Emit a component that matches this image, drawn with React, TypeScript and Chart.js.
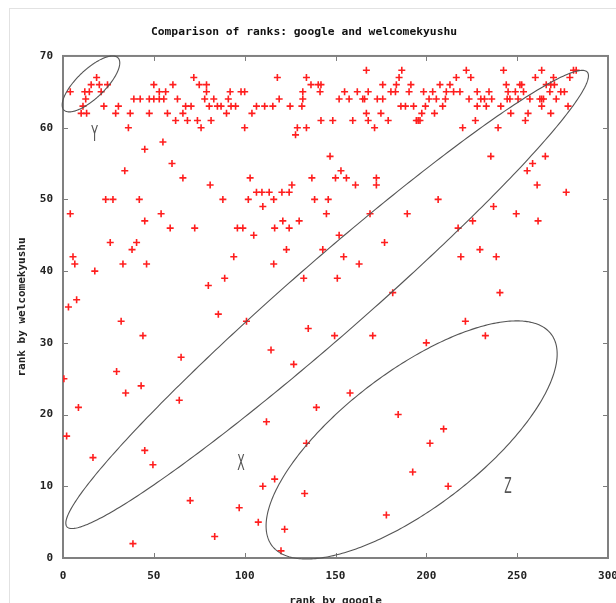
import React, { useEffect, useRef } from "react";
import { Chart, registerables } from "chart.js";

Chart.register(...registerables);

const chartTitle = "Comparison of ranks: google and welcomekyushu";
const xAxisTitle = "rank by google";
const yAxisTitle = "rank by welcomekyushu";

const xMin = 0;
const xMax = 300;
const xStep = 50;
const yMin = 0;
const yMax = 70;
const yStep = 10;

// rank by google (x) for each page
const googleRank = [
  // top band, left part
  4, 12, 14.5, 15.5, 18.5, 20, 24.5, 21, 12.5, 11, 10, 13, 22.5, 29, 30.5, 37, 36, 39, 42.5, 47.5,
  50, 53, 55.5, 50, 53, 60.5, 56.5, 63, 47.5, 57.5, 62, 67.5, 70.5, 66, 68.5, 72, 75, 79, 79, 78,
  74, 76, 80.5, 85, 83, 81.5, 87, 90, 91, 92, 92.5, 95, 98, 100, 100, 104,
  45, 55, 34, 60, 66, 81, 103, 23.5, 27.5, 42, 88, 102,
  // top band, middle part
  106.5, 111, 115.5, 118, 119, 125, 131.5, 132, 132, 134, 136.5, 140.5, 142, 141.5, 142, 129, 134, 128, 148.5, 152,
  155, 157.5, 159.5, 162, 165, 166, 168, 167, 167, 168, 171.5, 173, 176, 176, 175, 179, 180.5, 183, 183.5, 185,
  186.5, 186, 188.5, 190.5, 191.5, 193, 194.5, 195.5, 196.5, 197.5, 198.5, 199.5, 201.5, 203.5, 204.5, 205.5, 207.5, 209, 210.5, 211,
  147, 153, 156, 150, 137, 161, 172.5, 172.5, 106.5, 109.5, 113.5, 110, 116, 120.5, 124.5, 126, 138.5, 146, 206.5,
  // top band, right part
  215, 218.5, 213, 216.5, 222, 224.5, 223.5, 228, 230, 232, 234.5, 236, 228, 233, 227, 220, 239.5, 242.5, 244, 245,
  244.5, 246, 241, 246.5, 251.5, 252.5, 249, 253.5, 250.5, 256, 254.5, 260, 263.5, 257, 262.5, 263.5, 264.5, 263.5, 268, 266,
  268.5, 270.5, 270, 271.5, 274, 276, 268.5, 278, 279, 281, 282.5,
  235.5, 258.5, 255.5, 265.5, 261, 277, 237,
  249.5, 261.5, 225.5, 217.5, 229.5, 219, 238.5, 240.5, 221.5, 232.5,
  // middle
  145, 121, 130, 116.5, 124.5, 105, 152, 169, 189.5, 177, 123, 143, 116, 154.5, 163, 132.5, 151, 181.5, 135, 149.5,
  170.5, 200, 114.5, 127,
  4, 45, 54, 59, 72.5, 96, 99, 26, 40.5, 38, 5.5, 6.5, 33, 46, 17.5, 94, 89, 80, 7.5, 3,
  85.5, 101, 32, 44, 65, 29.5, 0.5,
  // lower part
  43, 34.5, 64, 8.5, 2, 16.5, 45, 49.5, 70, 97, 83.5, 38.5,
  112, 139.5, 158, 134, 184.5, 209.5, 202, 192.5, 212, 110, 116.5, 133, 178, 107.5, 122, 120,
];

// rank by welcomekyushu (y) for the same pages
const welcomeRank = [
  65, 65, 65, 66, 67, 66, 66, 65, 64, 63, 62, 62, 63, 62, 63, 62, 60, 64, 64, 64,
  64, 64, 64, 66, 65, 66, 65, 64, 62, 62, 61, 63, 63, 62, 61, 67, 66, 66, 65, 64,
  61, 60, 63, 63, 64, 61, 63, 62, 64, 65, 63, 63, 65, 65, 60, 62,
  57, 58, 54, 55, 53, 52, 53, 50, 50, 50, 50, 50,
  63, 63, 63, 67, 64, 63, 63, 65, 64, 67, 66, 66, 66, 65, 61, 60, 60, 59, 61, 64,
  65, 64, 61, 65, 64, 64, 65, 68, 62, 61, 60, 64, 64, 66, 62, 61, 65, 65, 66, 67,
  68, 63, 63, 65, 66, 63, 61, 61, 61, 62, 65, 63, 64, 65, 62, 64, 66, 63, 64, 65,
  56, 54, 53, 53, 53, 52, 53, 52, 51, 51, 51, 49, 50, 51, 51, 52, 50, 50, 50,
  65, 65, 66, 67, 68, 67, 64, 65, 64, 64, 65, 64, 63, 63, 61, 60, 60, 68, 66, 65,
  64, 64, 63, 62, 66, 66, 65, 65, 64, 62, 61, 67, 68, 64, 64, 64, 64, 63, 65, 66,
  66, 66, 67, 64, 65, 65, 62, 63, 67, 68, 68,
  56, 55, 54, 56, 52, 51, 49,
  48, 47, 47, 46, 43, 42, 42, 37, 33, 31,
  48, 47, 47, 46, 46, 45, 45, 48, 48, 44, 43, 43, 41, 42, 41, 39, 39, 37, 32, 31,
  31, 30, 29, 27,
  48, 47, 48, 46, 46, 46, 46, 44, 44, 43, 42, 41, 41, 41, 40, 42, 39, 38, 36, 35,
  34, 33, 33, 31, 28, 26, 25,
  24, 23, 22, 21, 17, 14, 15, 13, 8, 7, 3, 2,
  19, 21, 23, 16, 20, 18, 16, 12, 10, 10, 11, 9, 6, 5, 4, 1,
];

// hand-drawn regions: centre and two conjugate semi-axes, in data units
const regionNames = ["Y", "X", "Z"];
const regionCenterX = [15.4, 145.4, 191.9];
const regionCenterY = [66.1, 36.05, 16.46];
const regionAxisAX = [14.9, 143.2, 76.8];
const regionAxisAY = [3.63, 31.7, 14.76];
const regionAxisBX = [5.4, 13.6, 22.8];
const regionAxisBY = [-1.42, -3.93, -7.6];
const regionLabelX = [17.4, 98, 245];
const regionLabelY = [59, 13.1, 10];

const MONO = '"DejaVu Sans Mono", "Liberation Mono", monospace';

export default function App() {
  const ref = useRef<HTMLCanvasElement | null>(null);

  useEffect(() => {
    const canvas = ref.current;
    if (!canvas) return;
    const points = googleRank.map((g, i) => ({ x: g, y: welcomeRank[i] }));

    const framePlugin = {
      id: "gnuFrame",
      beforeDatasetsDraw(chart: any) {
        const { ctx, chartArea, scales } = chart;
        const xs = scales.x;
        const ys = scales.y;
        ctx.save();
        ctx.strokeStyle = "#7c7c7c";
        ctx.lineWidth = 1;
        const tl = 5;
        ctx.beginPath();
        for (let v = xMin + xStep; v < xMax; v += xStep) {
          const px = Math.round(xs.getPixelForValue(v)) + 0.5;
          ctx.moveTo(px, chartArea.bottom);
          ctx.lineTo(px, chartArea.bottom - tl);
          ctx.moveTo(px, chartArea.top);
          ctx.lineTo(px, chartArea.top + tl);
        }
        for (let v = yMin + yStep; v < yMax; v += yStep) {
          const py = Math.round(ys.getPixelForValue(v)) + 0.5;
          ctx.moveTo(chartArea.left, py);
          ctx.lineTo(chartArea.left + tl, py);
          ctx.moveTo(chartArea.right, py);
          ctx.lineTo(chartArea.right - tl, py);
        }
        ctx.stroke();
        ctx.lineWidth = 2;
        ctx.strokeStyle = "#808080";
        ctx.strokeRect(chartArea.left, chartArea.top, chartArea.right - chartArea.left, chartArea.bottom - chartArea.top);
        ctx.restore();
      },
    };

    const regionPlugin = {
      id: "regions",
      afterDatasetsDraw(chart: any) {
        const { ctx, scales } = chart;
        const xs = scales.x;
        const ys = scales.y;
        ctx.save();
        ctx.strokeStyle = "#555555";
        ctx.lineWidth = 1.1;
        for (let i = 0; i < regionNames.length; i++) {
          ctx.beginPath();
          for (let k = 0; k <= 360; k++) {
            const t = (k * Math.PI) / 180;
            const dx = regionCenterX[i] + regionAxisAX[i] * Math.cos(t) + regionAxisBX[i] * Math.sin(t);
            const dy = regionCenterY[i] + regionAxisAY[i] * Math.cos(t) + regionAxisBY[i] * Math.sin(t);
            const px = xs.getPixelForValue(dx);
            const py = ys.getPixelForValue(dy);
            if (k === 0) ctx.moveTo(px, py);
            else ctx.lineTo(px, py);
          }
          ctx.closePath();
          ctx.stroke();
        }
        ctx.fillStyle = "#555555";
        ctx.font = '21px "DejaVu Sans", sans-serif';
        ctx.textAlign = "center";
        ctx.textBaseline = "middle";
        for (let i = 0; i < regionNames.length; i++) {
          const px = xs.getPixelForValue(regionLabelX[i]);
          const py = ys.getPixelForValue(regionLabelY[i]);
          ctx.save();
          ctx.translate(px, py);
          ctx.scale(0.52, 1);
          ctx.fillText(regionNames[i], 0, 1);
          ctx.restore();
        }
        ctx.restore();
      },
    };

    const chart = new Chart(canvas, {
      type: "scatter",
      data: {
        datasets: [
          {
            data: points,
            pointStyle: "cross",
            pointRadius: 3.5,
            pointBorderColor: "#ff1e1e",
            pointBackgroundColor: "#ff1e1e",
            pointBorderWidth: 1.6,
            showLine: false,
          } as any,
        ],
      },
      options: {
        animation: false,
        responsive: false,
        devicePixelRatio: 1,
        events: [],
        layout: { padding: { left: 0, right: 8, top: 0, bottom: 0 } },
        plugins: {
          legend: { display: false },
          tooltip: { enabled: false },
          title: {
            display: true,
            text: chartTitle,
            color: "#111",
            font: { family: MONO, size: 11.3, weight: "bold", lineHeight: 1.2 },
            padding: { top: 25, bottom: 17.4 },
          },
        },
        scales: {
          x: {
            type: "linear",
            min: xMin,
            max: xMax,
            position: "bottom",
            grid: { display: false, drawTicks: false },
            border: { display: false },
            ticks: {
              stepSize: xStep,
              padding: 12,
              maxRotation: 0,
              color: "#222",
              font: { family: MONO, size: 11, weight: "bold" },
            },
            title: {
              display: true,
              text: xAxisTitle,
              color: "#222",
              font: { family: MONO, size: 11, weight: "bold", lineHeight: 1.2 },
              padding: { top: 0, bottom: -5 },
            },
            afterFit(s: any) {
              s.height = 45;
              s.paddingLeft = 0;
              s.paddingRight = 0;
            },
          },
          y: {
            type: "linear",
            min: yMin,
            max: yMax,
            grid: { display: false, drawTicks: false },
            border: { display: false },
            ticks: {
              stepSize: yStep,
              padding: 10,
              color: "#222",
              font: { family: MONO, size: 11, weight: "bold" },
            },
            title: {
              display: true,
              text: yAxisTitle,
              color: "#222",
              font: { family: MONO, size: 11, weight: "bold", lineHeight: 1.2 },
              padding: { top: 15.5, bottom: 0 },
            },
            afterFit(s: any) {
              s.width = 63;
              s.paddingTop = 0;
              s.paddingBottom = 0;
            },
          },
        },
      } as any,
      plugins: [framePlugin, regionPlugin],
    });
    return () => chart.destroy();
  }, []);

  return (
    <div
      style={{
        position: "fixed",
        left: 0,
        top: 0,
        width: 616,
        height: 603,
        overflow: "hidden",
        background: "#ffffff",
      }}
    >
      <div
        style={{
          position: "absolute",
          left: 9,
          top: 8,
          right: 0,
          bottom: 0,
          borderTop: "1px solid #e2e2e2",
          borderLeft: "1px solid #e2e2e2",
        }}
      />
      <canvas
        ref={ref}
        width={616}
        height={603}
        style={{ position: "absolute", left: 0, top: 0, width: 616, height: 603 }}
      />
    </div>
  );
}
